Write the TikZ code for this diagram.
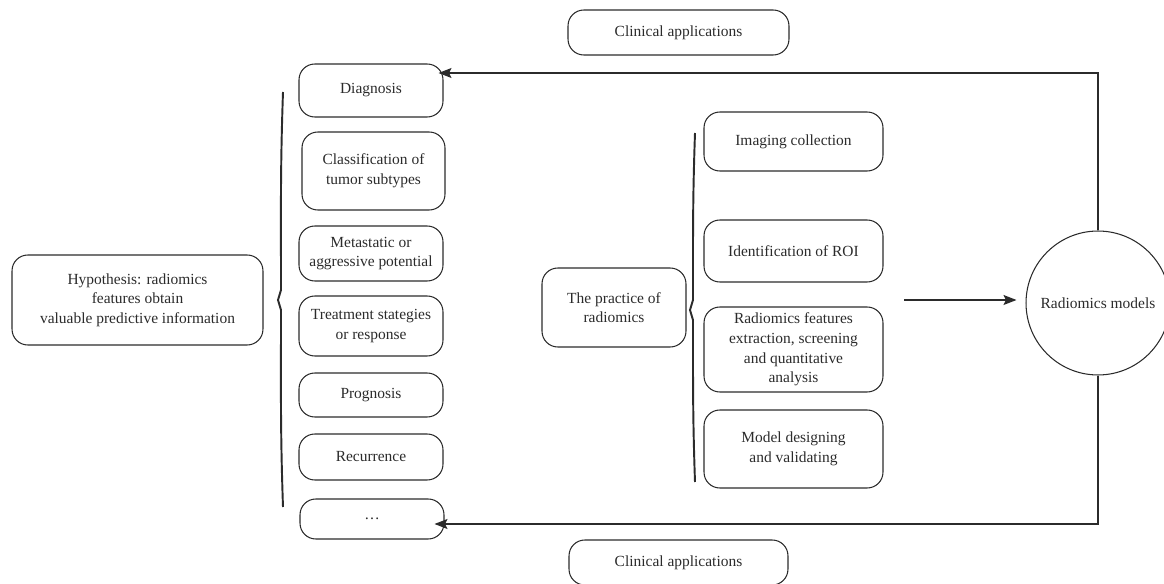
\documentclass[tikz,border=0pt]{standalone}
\usepackage{fontspec}
\setmainfont{Liberation Serif}
\usetikzlibrary{arrows.meta,calc}
\definecolor{ink}{HTML}{2B2B2B}
\tikzset{
  box/.style={draw=ink, line width=0.6pt, rounded corners=9pt, align=center,
    inner sep=1pt, text=ink, font=\fontsize{8.8}{11.2}\selectfont},
  brc/.style={draw=ink, line width=1.1pt},
  conn/.style={draw=ink, line width=0.6pt,
    -{Stealth[length=2.6mm,width=2mm,inset=0.5mm]}},
}

\begin{document}
\begin{tikzpicture}[x=0.02cm, y=-0.02cm]
  \useasboundingbox (0,0) rectangle (1164,584);

  % hypothesis on the left
  \node[box, minimum width=5.02cm, minimum height=1.8cm] (hyp) at (137.5,300)
    {Hypothesis: radiomics\\features obtain\\valuable predictive information};

  % clinical questions
  \node[box, minimum width=2.88cm, minimum height=1.06cm] (diag)  at (371,90.5)  {Diagnosis};
  \node[box, minimum width=2.86cm, minimum height=1.56cm] (class) at (373.5,171) {Classification of\\tumor subtypes};
  \node[box, minimum width=2.88cm, minimum height=1.1cm]  (meta)  at (371,253.5) {Metastatic or\\aggressive potential};
  \node[box, minimum width=2.88cm, minimum height=1.2cm]  (treat) at (371,326)   {Treatment stategies\\or response};
  \node[box, minimum width=2.88cm, minimum height=0.88cm] (prog)  at (371,395)   {Prognosis};
  \node[box, minimum width=2.88cm, minimum height=0.92cm] (recur) at (371,457)   {Recurrence};
  \node[box, minimum width=2.88cm, minimum height=0.8cm]  (dots)  at (372,519)   {\ldots};

  % clinical applications, top and bottom
  \node[box, minimum width=4.42cm, minimum height=0.9cm] (clintop) at (678.5,32.5)  {Clinical applications};
  \node[box, minimum width=4.38cm, minimum height=0.9cm] (clinbot) at (678.5,562.5) {Clinical applications};

  % practice of radiomics
  \node[box, minimum width=2.88cm, minimum height=1.58cm] (prac) at (614,307.5) {The practice of\\radiomics};
  \node[box, minimum width=3.58cm, minimum height=1.18cm] (img)   at (793.5,141.5) {Imaging collection};
  \node[box, minimum width=3.58cm, minimum height=1.24cm] (roi)   at (793.5,251)   {Identification of ROI};
  \node[box, minimum width=3.58cm, minimum height=1.7cm]  (feat)  at (793.5,349.5) {Radiomics features\\extraction, screening\\and quantitative\\analysis};
  \node[box, minimum width=3.58cm, minimum height=1.56cm] (model) at (793.5,449)   {Model designing\\and validating};

  % radiomics models
  \node[draw=ink, line width=0.6pt, circle, minimum size=2.88cm, inner sep=0pt, text=ink,
    font=\fontsize{8.8}{11.2}\selectfont] (circ) at (1098,303) {Radiomics models};

  % braces
  \draw[brc] (283,92) to[out=-92,in=90] (281,290) -- (278,300) -- (281,310) to[out=-90,in=92] (283,507);
  \draw[brc] (695,133) to[out=-92,in=90] (693,300) -- (690,310) -- (693,320) to[out=-90,in=92] (695,482);

  % connectors
  \coordinate (from) at (904,300);
  \draw[conn, shorten >=1.8mm] (from) -- (from -| circ.west);
  \draw[conn, shorten >=-1mm] (circ.north) |- ([yshift=3.5mm]diag.east);
  \draw[conn, shorten >=-2mm] (circ.south) |- ([yshift=-1mm]dots.east);
\end{tikzpicture}
\end{document}
